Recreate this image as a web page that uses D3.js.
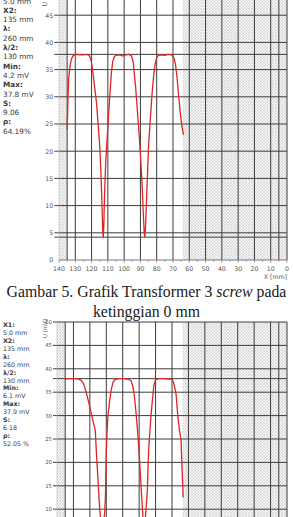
<!DOCTYPE html>
<html><head><meta charset="utf-8">
<script src="https://cdn.jsdelivr.net/npm/d3@7"></script>
<style>
body{margin:0;background:#fff;}
svg{display:block;}
</style></head><body>
<script>
// --- data ---
const xTicks = [140, 130, 120, 110, 100, 90, 80, 70, 60, 50, 40, 30, 20, 10, 0]
const yTicks = [0, 5, 10, 15, 20, 25, 30, 35, 40, 45, 50]
const infoLabels = ["X1:", "X2:", "λ:", "λ/2:", "Min:", "Max:", "S:", "ρ:"]

const topValues = ["5.0 mm", "135 mm", "260 mm", "130 mm", "4.2 mV", "37.8 mV", "9.06", "64.19%"]
const topMarkers = {x1: 5, x2: 135, min: 4.2, max: 37.8, hatchFrom: 64}
const topX = [135, 134.5, 134, 133.3, 132.5, 131.5, 130.5, 129, 127, 125, 123, 121.5, 120.5, 119.8, 119, 118, 117, 116, 115, 114.3, 113.8, 113.4, 113.1, 112.8, 112.5, 112.2, 111.8, 111.3, 110.5, 109.5, 108.5, 107.8, 107, 106, 105, 103, 101, 99, 97, 95.5, 94.5, 94, 93, 92, 91, 90, 89, 88.3, 87.7, 87.3, 86.9, 86.5, 86, 85.5, 85, 84, 83, 82, 81, 80, 79, 77, 75, 73, 71, 69.5, 68.5, 67.5, 66.5, 65.5, 64.5, 63.5]
const topU = [24, 29.5, 33.5, 35.5, 36.8, 37.5, 37.7, 37.8, 37.7, 37.7, 37.8, 37.6, 37, 35.8, 34, 31.5, 29, 25, 21, 16.5, 12, 8, 5, 4.2, 6, 10, 14, 18, 22, 27, 31.5, 34.5, 36.5, 37.4, 37.6, 37.7, 37.5, 37.7, 37.8, 37.5, 36.5, 35, 32, 28, 24, 19.5, 14, 9, 5, 4.3, 6, 9, 13, 17, 21, 25.5, 30, 33.5, 36, 37.2, 37.6, 37.7, 37.6, 37.8, 37.7, 37.2, 36, 33.5, 30, 27, 24.5, 23]

const botValues = ["5.0 mm", "135 mm", "260 mm", "130 mm", "6.1 mV", "37.9 mV", "6.18", "52.05 %"]
const botMarkers = {x1: 5, x2: 135, min: 6.1, max: 37.9, hatchFrom: 63.5}
const botX = [135, 133, 131, 129, 127, 125.5, 124.5, 123.5, 122.5, 121.5, 120.5, 119.5, 118.5, 117.5, 116.7, 116, 115, 114, 113.2, 112.6, 112, 111, 110.5, 110, 109.5, 109, 108, 107, 106, 105, 103, 100, 97, 95, 94, 93, 92, 91, 90, 89, 88, 87.3, 86.8, 86, 85, 84.5, 84, 83, 82, 81, 80, 78, 75, 72, 70, 69, 68, 67.5, 66.5, 65.5, 64.5, 63.8, 63.2]
const botU = [37.8, 37.9, 37.9, 37.9, 37.8, 37.6, 37.2, 36.5, 35.3, 34, 32.5, 31, 29.5, 28, 26.9, 22, 16, 10, 7, 6.1, 7, 9, 13, 22, 27, 30, 33, 35.5, 37, 37.6, 37.9, 37.9, 37.8, 37.5, 36.5, 34.5, 31, 27, 22, 16, 10, 6.5, 6.3, 9, 14, 20, 24, 29, 33, 36.5, 37.7, 37.9, 37.9, 37.8, 37.8, 37, 35.5, 34.5, 30, 27, 24.8, 18, 12.5]

const W = 293, H = 517

const svg = d3.select("body").append("svg")
    .attr("width", W)
    .attr("height", H)

// crosshatch pattern for the unmeasured zones
const pat = svg.append("defs").append("pattern")
    .attr("id", "hatch")
    .attr("patternUnits", "userSpaceOnUse")
    .attr("width", 3)
    .attr("height", 3)
pat.append("rect").attr("width", 3).attr("height", 3).attr("fill", "#f6f6f6")
pat.append("path")
    .attr("d", "M0,0L3,3M3,0L0,3")
    .attr("stroke", "#cfcfcf")
    .attr("stroke-width", 0.6)

function drawChart(cfg) {
    const g = svg.append("g")
    const x = d3.scaleLinear().domain([140, 0]).range([cfg.left, cfg.right])
    const y = d3.scaleLinear().domain([0, 50]).range([cfg.y0, cfg.y50])
    const top = Math.max(y(50), -20)
    const k = cfg.k

    // hatched zones
    g.append("rect")
        .attr("x", x(140)).attr("y", top)
        .attr("width", x(cfg.m.x2) - x(140)).attr("height", y(0) - top)
        .attr("fill", "url(#hatch)")
    g.append("rect")
        .attr("x", x(cfg.m.hatchFrom)).attr("y", top)
        .attr("width", x(0) - x(cfg.m.hatchFrom)).attr("height", y(0) - top)
        .attr("fill", "url(#hatch)")

    // grid
    const vLines = xTicks.filter(d => d < 140).concat([cfg.m.x1, cfg.m.x2])
    g.append("g").selectAll("line")
        .data(vLines)
        .join("line")
        .attr("x1", d => x(d)).attr("x2", d => x(d))
        .attr("y1", top).attr("y2", y(0))
        .attr("stroke", "#3c3c3c")
        .attr("stroke-width", 1)

    const hLines = yTicks.filter(d => d > 0).concat([cfg.m.min, cfg.m.max])
    g.append("g").selectAll("line")
        .data(hLines)
        .join("line")
        .attr("x1", x(140) - 4 * k).attr("x2", x(0))
        .attr("y1", d => y(d)).attr("y2", d => y(d))
        .attr("stroke", "#3c3c3c")
        .attr("stroke-width", 1)

    // axes
    g.append("line")
        .attr("x1", x(140)).attr("x2", x(0))
        .attr("y1", y(0)).attr("y2", y(0))
        .attr("stroke", "#777")
    g.append("line")
        .attr("x1", x(140)).attr("x2", x(140))
        .attr("y1", top).attr("y2", y(0))
        .attr("stroke", "#bbb")
        .attr("stroke-width", 0.6)
    g.append("g").selectAll("line")
        .data(d3.range(0, 141, 5))
        .join("line")
        .attr("x1", d => x(d)).attr("x2", d => x(d))
        .attr("y1", y(0)).attr("y2", d => y(0) + (d % 10 === 0 ? 2.5 : 1.5) * k)
        .attr("stroke", "#777")
        .attr("stroke-width", 0.7)

    // labels that fall below the cropped page are left out
    const xLabY = y(0) + 9.5 * k
    g.append("g").selectAll("text")
        .data(xLabY < H ? xTicks : [])
        .join("text")
        .attr("x", d => x(d))
        .attr("y", xLabY)
        .attr("text-anchor", "middle")
        .attr("font-family", "DejaVu Sans")
        .attr("font-size", 5.4 * k)
        .attr("fill", "#555")
        .text(d => d)

    g.append("g").selectAll("text")
        .data(yTicks.filter(d => y(d) < H - 2))
        .join("text")
        .attr("x", x(140) - 5 * k)
        .attr("y", d => y(d) + 2 * k)
        .attr("text-anchor", "end")
        .attr("font-family", "DejaVu Sans")
        .attr("font-size", 5.4 * k)
        .attr("fill", "#555")
        .text(d => d)

    if (y(0) + 16 * k < H) {
        g.append("text")
            .attr("x", x(0))
            .attr("y", y(0) + 16 * k)
            .attr("text-anchor", "end")
            .attr("font-family", "DejaVu Sans")
            .attr("font-size", 5.4 * k)
            .attr("fill", "#555")
            .text("X [mm]")
    }

    g.append("text")
        .attr("transform", `translate(${x(140) - 10 * k},${y(50) + 16 * k}) rotate(-90)`)
        .attr("text-anchor", "start")
        .attr("font-family", "DejaVu Sans")
        .attr("font-size", 5.4 * k)
        .attr("fill", "#555")
        .text("U [mV]")

    // info column
    const info = g.append("g")
        .attr("font-family", "DejaVu Sans")
        .attr("font-size", 6.3 * k)
        .attr("fill", "#3a3a3a")
    infoLabels.forEach((lab, i) => {
        info.append("text")
            .attr("x", 3).attr("y", cfg.infoY + (2 * i) * cfg.step + 2.2 * k)
            .attr("font-weight", "bold")
            .text(lab)
        info.append("text")
            .attr("x", 3).attr("y", cfg.infoY + (2 * i + 1) * cfg.step + 2.2 * k)
            .text(cfg.values[i])
    })

    // measured curve
    const pts = cfg.xs.map((d, i) => [d, cfg.us[i]])
    const line = d3.line().x(d => x(d[0])).y(d => y(d[1]))
    g.append("path")
        .datum(pts)
        .attr("d", line)
        .attr("fill", "none")
        .attr("stroke", "#e02424")
        .attr("stroke-width", 1.3)
        .attr("stroke-linejoin", "round")
}

drawChart({left: 59, right: 287, y0: 260, y50: -12, k: 1.16,
    infoY: -8.3, step: 9.3, values: topValues, m: topMarkers, xs: topX, us: topU})

drawChart({left: 57, right: 287, y0: 556, y50: 322, k: 1,
    infoY: 325, step: 7.9, values: botValues, m: botMarkers, xs: botX, us: botU})

// caption
const cap = svg.append("text")
    .attr("x", W / 2)
    .attr("y", 297)
    .attr("text-anchor", "middle")
    .attr("font-family", "Liberation Serif, Times New Roman, serif")
    .attr("font-size", 15.8)
    .attr("fill", "#1a1a1a")
cap.append("tspan").text("Gambar 5. Grafik Transformer 3 ")
cap.append("tspan").attr("font-style", "italic").text("screw")
cap.append("tspan").text(" pada")
svg.append("text")
    .attr("x", W / 2)
    .attr("y", 317)
    .attr("text-anchor", "middle")
    .attr("font-family", "Liberation Serif, Times New Roman, serif")
    .attr("font-size", 15.8)
    .attr("fill", "#1a1a1a")
    .text("ketinggian 0 mm")
</script>
</body></html>
